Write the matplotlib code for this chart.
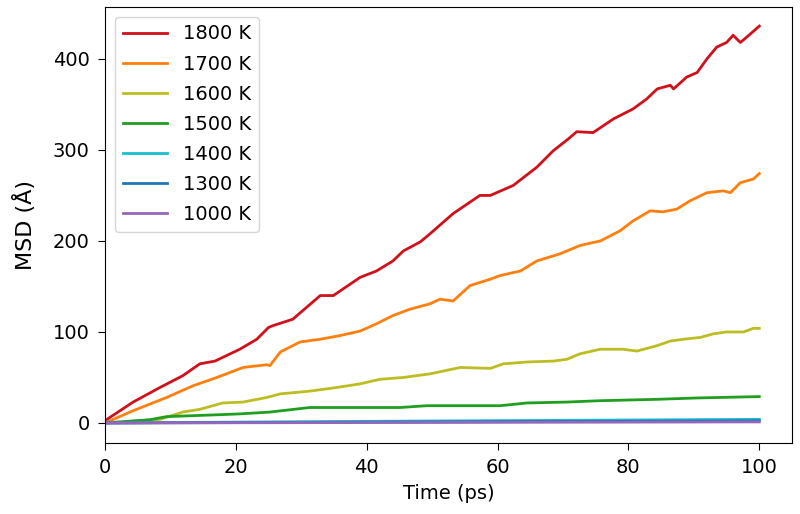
import matplotlib
matplotlib.use("Agg")
import matplotlib.pyplot as plt

plt.rcParams['font.family'] = ['DejaVu Sans']

# values (time in ps, MSD)
t_1800 = [0, 0.3, 4.3, 8.4, 11.9, 14.5, 16.8, 20.6, 23.2, 25, 25.7, 28.7, 32.9, 34.9,
          39, 41.5, 44, 45.6, 48.2, 49.7, 53.2, 57.3, 58.9, 62.4, 66, 68.5, 70.8,
          72.1, 74.6, 77.7, 80.7, 82.8, 84.4, 86.4, 86.9, 88.9, 90.5, 92, 93.5, 95,
          96, 97.1, 98.1, 100]
msd_1800 = [0, 4, 23, 39, 52, 65, 68, 81, 92, 105, 107, 114, 140, 140,
            160, 167, 178, 189, 199, 208, 230, 250, 250, 261, 281, 299, 312,
            320, 319, 334, 345, 356, 367, 371, 367, 380, 385, 400, 413, 418,
            426, 418, 424, 436]

t_1700 = [0, 4.3, 9.4, 13.5, 17.1, 21.1, 24.7, 25.2, 26.8, 29.8, 32.9, 35.9, 39,
          41.5, 44, 46.6, 49.7, 51.2, 53.2, 55.8, 58.9, 60.4, 63.5, 66, 69.6,
          72.6, 75.7, 78.7, 80.7, 83.3, 85.3, 87.4, 89.4, 92, 94.5, 95.6, 97.1,
          99.1, 100]
msd_1700 = [0, 13.5, 28, 41, 50, 61, 64, 63, 78, 89, 92, 96, 101,
            109, 118, 125, 131, 136, 134, 151, 158, 162, 167, 178, 186,
            195, 200, 211, 222, 233, 232, 235, 244, 253, 255, 253, 264,
            268, 274]

t_1600 = [0, 8.4, 11.9, 14.5, 18, 21.1, 24.7, 26.8, 31.3, 35.4, 39, 42, 45.6,
          49.7, 54.3, 58.9, 60.9, 64.5, 68.5, 70.6, 72.6, 75.7, 79.2, 81.3,
          84.4, 86.4, 88.4, 91, 93, 95, 97.6, 99.1, 100]
msd_1600 = [0, 4, 12, 15, 22, 23, 28, 32, 35, 39, 43, 48, 50,
            54, 61, 60, 65, 67, 68, 70, 76, 81, 81, 79,
            85, 90, 92, 94, 98, 100, 100, 104, 104]

t_1500 = [0, 6.9, 9.4, 17.1, 20.6, 25.2, 31.3, 45.1, 49.2, 60.4, 64.5, 70.6,
          75.7, 84.4, 90.5, 100]
msd_1500 = [0, 3.6, 7, 9, 10, 12, 17, 17, 19, 19, 22, 23,
            24.5, 26, 27.5, 29]

t_1400 = [0, 25, 50, 75, 100]
msd_1400 = [0, 1.2, 2.2, 3.1, 4]

t_1300 = [0, 25, 50, 75, 100]
msd_1300 = [0, 0.6, 1.2, 1.8, 2.4]

t_1000 = [0, 25, 50, 75, 100]
msd_1000 = [0, 0.3, 0.6, 0.9, 1.2]

labels = ['1800 K', '1700 K', '1600 K', '1500 K', '1400 K', '1300 K', '1000 K']
colors = ['#d0101a', '#ff7f0e', '#bcbd22', '#1f9e1f', '#17becf', '#1f77b4', '#9467bd']

series = [(t_1800, msd_1800), (t_1700, msd_1700), (t_1600, msd_1600),
          (t_1500, msd_1500), (t_1400, msd_1400), (t_1300, msd_1300),
          (t_1000, msd_1000)]

fig = plt.figure(figsize=(8, 5.14), dpi=100)
ax = fig.add_axes([0.13125, 0.1381, 0.85875, 0.8483])

for (t, m), lab, c in zip(series, labels, colors):
    ax.plot(t, m, color=c, lw=2, label=lab)

ax.set_xlim(0, 105)
ax.set_ylim(-22, 457)
ax.set_xticks([0, 20, 40, 60, 80, 100])
ax.set_yticks([0, 100, 200, 300, 400])
ax.tick_params(labelsize=14, length=5, pad=6)
ax.set_xlabel('Time (ps)', fontsize=14, labelpad=5)
ax.set_ylabel('MSD (Å)', fontsize=16, labelpad=12,
              family=['Liberation Sans Narrow', 'DejaVu Sans'])

ax.legend(loc='upper left', fontsize=14, handlelength=2.3, labelspacing=0.57)

fig.savefig('out.png', dpi=100)
